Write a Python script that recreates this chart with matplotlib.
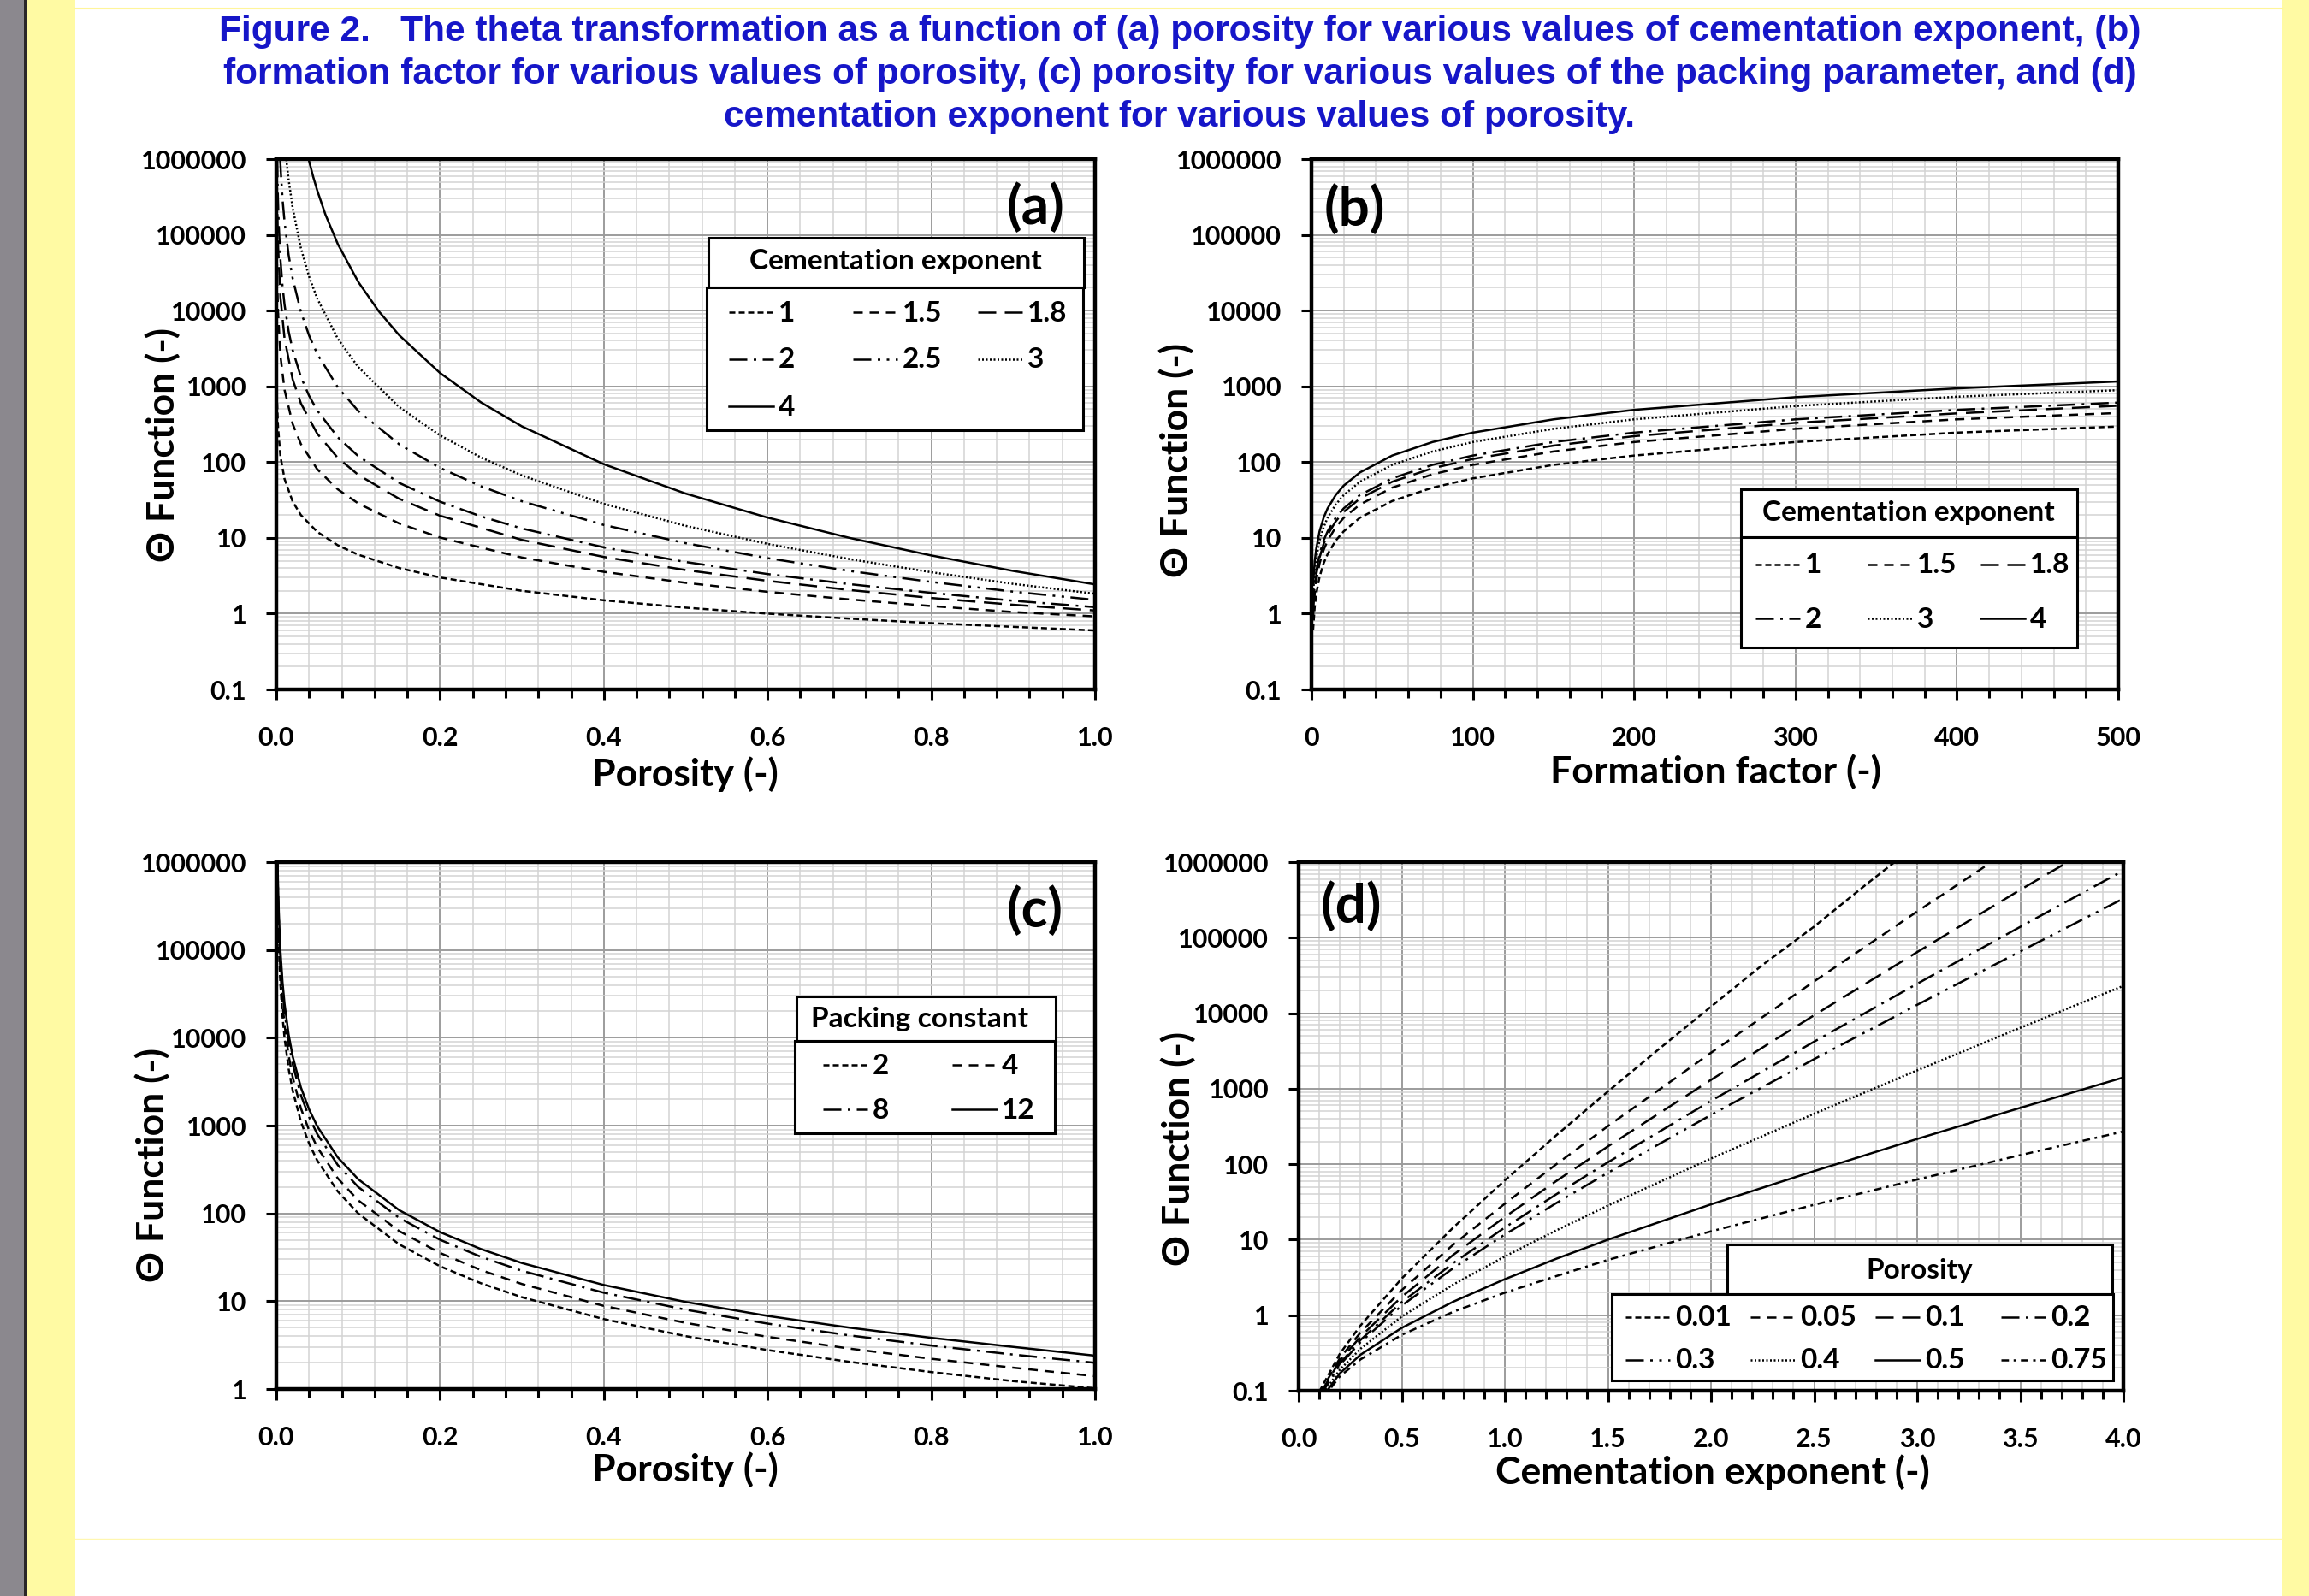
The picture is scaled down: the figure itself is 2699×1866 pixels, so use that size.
import numpy as np
import matplotlib
matplotlib.use("Agg")
import matplotlib.pyplot as plt
from matplotlib.lines import Line2D
from matplotlib.patches import Rectangle
from matplotlib.ticker import MultipleLocator, LogLocator, NullFormatter

# -------- data --------

# (a) theta vs porosity, one curve per cementation exponent
a_phi_m1 = [0.001, 0.002, 0.005, 0.01, 0.02, 0.03, 0.05, 0.075, 0.1, 0.15, 0.2, 0.3, 0.4, 0.5, 0.6, 0.7, 0.8, 0.9, 1.0]
a_theta_m1 = [600, 300, 120, 60, 30, 20, 12, 8.0, 6.0, 4.0, 3.0, 2.0, 1.5, 1.2, 1.0, 0.86, 0.75, 0.67, 0.6]
a_phi_m15 = [0.0001, 0.0002, 0.0005, 0.001, 0.002, 0.005, 0.01, 0.02, 0.03, 0.05, 0.075, 0.1, 0.15, 0.2, 0.3, 0.4, 0.5, 0.6, 0.7, 0.8, 0.9, 1.0]
a_theta_m15 = [900000, 318000, 80500, 28500, 10100, 2550, 900, 318, 173, 80.5, 43.8, 28.5, 15.5, 10.1, 5.5, 3.56, 2.55, 1.94, 1.54, 1.26, 1.05, 0.92]
a_phi_m18 = [0.0005, 0.001, 0.002, 0.005, 0.01, 0.02, 0.03, 0.05, 0.075, 0.1, 0.15, 0.2, 0.3, 0.4, 0.5, 0.6, 0.7, 0.8, 0.9, 1.0]
a_theta_m18 = [943000, 271000, 77900, 15000, 4300, 1230, 596, 237, 114, 68, 32.8, 19.6, 9.4, 5.6, 3.76, 2.71, 2.05, 1.61, 1.31, 1.1]
a_phi_m2 = [0.0011, 0.0015, 0.002, 0.003, 0.005, 0.0075, 0.01, 0.015, 0.02, 0.03, 0.04, 0.05, 0.075, 0.1, 0.15, 0.2, 0.25, 0.3, 0.4, 0.5, 0.6, 0.7, 0.8, 0.9, 1.0]
a_theta_m2 = [992000, 533000, 300000, 133000, 48000, 21300, 12000, 5330, 3000, 1330, 750, 480, 213, 120, 53.3, 30, 19.2, 13.3, 7.5, 4.8, 3.33, 2.45, 1.88, 1.48, 1.22]
a_phi_m25 = [0.0047, 0.006, 0.008, 0.01, 0.015, 0.02, 0.03, 0.04, 0.05, 0.075, 0.1, 0.15, 0.2, 0.25, 0.3, 0.4, 0.5, 0.6, 0.7, 0.8, 0.9, 1.0]
a_theta_m25 = [993000, 538000, 262000, 150000, 54400, 26500, 9620, 4690, 2680, 973, 474, 172, 83.9, 48, 30.4, 14.8, 8.5, 5.4, 3.66, 2.62, 1.95, 1.52]
a_phi_m3 = [0.0122, 0.015, 0.02, 0.03, 0.04, 0.05, 0.075, 0.1, 0.15, 0.2, 0.25, 0.3, 0.4, 0.5, 0.6, 0.7, 0.8, 0.9, 1.0]
a_theta_m3 = [991000, 533000, 225000, 66700, 28100, 14400, 4270, 1800, 533, 225, 115, 66.7, 28.1, 14.4, 8.33, 5.25, 3.52, 2.47, 1.83]
a_phi_m4 = [0.0394, 0.045, 0.05, 0.06, 0.075, 0.1, 0.125, 0.15, 0.2, 0.25, 0.3, 0.4, 0.5, 0.6, 0.7, 0.8, 0.9, 1.0]
a_theta_m4 = [1000000, 585000, 384000, 185000, 75900, 24000, 9830, 4740, 1500, 614, 296, 93.8, 38.4, 18.5, 10.0, 5.86, 3.66, 2.43]
a_names = ["1", "1.5", "1.8", "2", "2.5", "3", "4"]

# (b) theta vs formation factor
b_F = [1, 2, 3, 5, 7.5, 10, 15, 20, 30, 50, 75, 100, 150, 200, 300, 400, 500]
b_theta_m1 = [0.61, 1.22, 1.84, 3.06, 4.6, 6.1, 9.2, 12.2, 18.4, 30.6, 46, 61, 92, 122, 184, 245, 295]
b_theta_m15 = [0.92, 1.84, 2.75, 4.6, 6.9, 9.2, 13.8, 18.4, 27.5, 46, 69, 92, 138, 184, 275, 367, 445]
b_theta_m18 = [1.10, 2.2, 3.3, 5.5, 8.3, 11, 16.5, 22, 33, 55, 83, 110, 165, 220, 330, 440, 555]
b_theta_m2 = [1.22, 2.45, 3.67, 6.1, 9.2, 12.2, 18.4, 24.5, 36.7, 61, 92, 122, 184, 245, 367, 490, 610]
b_theta_m3 = [1.84, 3.67, 5.5, 9.2, 13.8, 18.4, 27.5, 36.7, 55, 92, 138, 184, 275, 367, 550, 730, 890]
b_theta_m4 = [2.45, 4.9, 7.3, 12.2, 18.4, 24.5, 36.7, 49, 73, 122, 184, 245, 367, 490, 720, 940, 1160]
b_names = ["1", "1.5", "1.8", "2", "3", "4"]

# (c) theta vs porosity, one curve per packing constant
c_phi_tail = [0.002, 0.003, 0.005, 0.0075, 0.01, 0.015, 0.02, 0.03, 0.04, 0.05, 0.075, 0.1, 0.15, 0.2, 0.25, 0.3, 0.4, 0.5, 0.6, 0.7, 0.8, 0.9, 1.0]
c_phi_a2 = [0.001] + c_phi_tail
c_phi_a4 = [0.0012] + c_phi_tail
c_phi_a8 = [0.00142] + c_phi_tail
c_phi_a12 = [0.00157] + c_phi_tail
c_theta_a2 = [1000000, 250000, 111000, 40000, 17800, 10000, 4440, 2500, 1110, 625, 400, 178, 100, 44.4, 25, 16, 11.1, 6.25, 4.0, 2.78, 2.04, 1.56, 1.23, 1.02]
c_theta_a4 = [982000, 354000, 157000, 56600, 25100, 14100, 6290, 3540, 1570, 884, 566, 251, 141, 62.9, 35.4, 22.6, 15.7, 8.84, 5.66, 3.93, 2.89, 2.21, 1.75, 1.40]
c_theta_a8 = [992000, 500000, 222000, 80000, 35600, 20000, 8890, 5000, 2220, 1250, 800, 356, 200, 88.9, 50, 32, 22.2, 12.5, 8.0, 5.56, 4.08, 3.13, 2.47, 1.99]
c_theta_a12 = [994000, 612000, 272000, 98000, 43500, 24500, 10900, 6120, 2720, 1530, 980, 435, 245, 109, 61.2, 39.2, 27.2, 15.3, 9.8, 6.8, 5.0, 3.83, 3.02, 2.40]
c_names = ["2", "4", "8", "12"]

# (d) theta vs cementation exponent, one curve per porosity
d_m = [0.1, 0.2, 0.3, 0.5, 0.75, 1.0, 1.25, 1.5, 2.0, 2.5, 3.0, 3.5, 4.0]
d_m_p001 = [0.1, 0.2, 0.3, 0.5, 0.75, 1.0, 1.25, 1.5, 1.75, 2.0, 2.25, 2.5, 2.75, 2.89]
d_theta_p001 = [0.097, 0.31, 0.73, 3.06, 14.5, 61, 242, 918, 3390, 12200, 43500, 140000, 500000, 1000000]
d_m_p005 = [0.1, 0.2, 0.3, 0.5, 0.75, 1.0, 1.25, 1.5, 2.0, 2.5, 3.0, 3.36]
d_theta_p005 = [0.090, 0.27, 0.59, 2.15, 8.6, 30, 100, 319, 2990, 26300, 222000, 1000000]
d_m_p01 = [0.1, 0.2, 0.3, 0.5, 0.75, 1.0, 1.25, 1.5, 2.0, 2.5, 3.0, 3.5, 3.73]
d_theta_p01 = [0.087, 0.25, 0.52, 1.75, 6.3, 20, 60, 172, 1310, 9380, 64400, 430000, 1000000]
d_theta_p02 = [0.084, 0.23, 0.47, 1.49, 4.9, 14.5, 40, 106, 689, 4190, 24500, 139000, 774000]
d_theta_p03 = [0.082, 0.22, 0.44, 1.34, 4.2, 11.7, 30.6, 77, 449, 2460, 12900, 65800, 329000]
d_theta_p04 = [0.077, 0.19, 0.36, 0.96, 2.55, 6.0, 13.3, 28.3, 119, 465, 1750, 6400, 23000]
d_theta_p05 = [0.072, 0.17, 0.30, 0.68, 1.51, 3.0, 5.6, 10.0, 29.4, 81, 216, 557, 1410]
d_theta_p075 = [0.069, 0.155, 0.26, 0.55, 1.11, 1.99, 3.3, 5.4, 12.9, 29, 62.7, 132, 271]
d_names = ["0.01", "0.05", "0.1", "0.2", "0.3", "0.4", "0.5", "0.75"]

# tick labels
unit_ticks = [0.0, 0.2, 0.4, 0.6, 0.8, 1.0]
unit_labels = ["0.0", "0.2", "0.4", "0.6", "0.8", "1.0"]
F_ticks = [0, 100, 200, 300, 400, 500]
F_labels = ["0", "100", "200", "300", "400", "500"]
m_ticks = [0.0, 0.5, 1.0, 1.5, 2.0, 2.5, 3.0, 3.5, 4.0]
m_labels = ["0.0", "0.5", "1.0", "1.5", "2.0", "2.5", "3.0", "3.5", "4.0"]
y_ticks = [0.1, 1, 10, 100, 1000, 10000, 100000, 1000000]
y_labels = ["0.1", "1", "10", "100", "1000", "10000", "100000", "1000000"]

title_lines = [
    "Figure 2.   The theta transformation as a function of (a) porosity for various values of cementation exponent, (b)",
    "formation factor for various values of porosity, (c) porosity for various values of the packing parameter, and (d)",
    "cementation exponent for various values of porosity.",
]

# -------- styling --------

W, H = 2699, 1866
plt.rcParams["font.family"] = ["Lato", "DejaVu Sans"]
plt.rcParams["font.weight"] = "bold"
plt.rcParams["axes.labelweight"] = "bold"

LW = 1.8
STYLES = {
    "sqdot": (0, (2.8, 1.6)),
    "dash": (0, (4.4, 3.2)),
    "longdash": (0, (8.4, 4.0)),
    "ldd": (0, (8.4, 3.0, 1.2, 3.0)),
    "lddd": (0, (8.4, 3.0, 1.2, 3.0, 1.2, 3.0)),
    "dot": (0, (0.8, 1.0)),
    "solid": "-",
    "dashdot": (0, (3.5, 2.2, 1.2, 2.2)),
}
TICK_FS = 22
XLAB_FS = 32
YLAB_FS = 32
LEG_FS = 24

fig = plt.figure(figsize=(W / 100, H / 100), dpi=100)


def fx(x):
    return x / W


def fy(y):
    return 1 - y / H


# page decorations
for x0, x1, col in [(0, 28, "#8b888e"), (28, 31, "#2a2628"), (31, 88, "#fffaa3"), (2668, 2699, "#fffaa3")]:
    fig.add_artist(Rectangle((fx(x0), 0), (x1 - x0) / W, 1, transform=fig.transFigure,
                             facecolor=col, edgecolor="none", zorder=0))
fig.add_artist(Line2D([fx(88), fx(2668)], [fy(10), fy(10)], transform=fig.transFigure, color="#fff59a", lw=1.5, zorder=0))
fig.add_artist(Line2D([fx(88), fx(2668)], [fy(1799), fy(1799)], transform=fig.transFigure, color="#fff7b0", lw=1.0, zorder=0))

for i, line in enumerate(title_lines):
    fig.text(fx(1379), fy(37 + 50 * i), line, ha="center", va="center", fontsize=30.5,
             family=["Liberation Sans", "DejaVu Sans"], weight="bold", color="#1616c8")


def make_axes(box):
    l, t, r, b = box
    return fig.add_axes([fx(l), fy(b), (r - l) / W, (b - t) / H])


def to_ax(box, x, y):
    l, t, r, b = box
    return (x - l) / (r - l), (b - y) / (b - t)


def style_axes(ax, box, xticks, xlabels, xminor, yticks, ylabels, xlabel, xlab_xy, ylab_xy, letter, letter_xy, letter_ha):
    ax.set_yscale("log")
    ax.set_xlim(xticks[0], xticks[-1])
    ax.set_ylim(yticks[0], yticks[-1])
    ax.set_xticks(xticks, xlabels, fontweight="bold")
    ax.set_yticks(yticks, ylabels, fontweight="bold")
    ax.xaxis.set_minor_locator(MultipleLocator(xminor))
    ax.yaxis.set_minor_locator(LogLocator(base=10, subs=np.arange(2, 10), numticks=20))
    ax.yaxis.set_minor_formatter(NullFormatter())
    ax.set_axisbelow(True)
    ax.grid(True, which="major", color="#9c9c9c", lw=1.4)
    ax.grid(True, which="minor", color="#d3d3d3", lw=1.1)
    ax.tick_params(axis="x", which="both", direction="out", length=9, width=2.2, labelsize=TICK_FS, pad=22)
    ax.tick_params(axis="x", which="minor", length=7)
    ax.tick_params(axis="y", which="major", direction="out", length=9, width=2.2, labelsize=TICK_FS, pad=16)
    ax.tick_params(axis="y", which="minor", length=0)
    for s in ax.spines.values():
        s.set_linewidth(3.2)
    ax.set_xlabel(xlabel, fontsize=XLAB_FS, fontweight="bold")
    ax.xaxis.set_label_coords(*to_ax(box, *xlab_xy))
    ax.xaxis.label.set_va("center")
    ax.set_ylabel("Θ Function (-)", fontsize=YLAB_FS, fontweight="bold")
    ax.yaxis.set_label_coords(*to_ax(box, *ylab_xy))
    ax.yaxis.label.set_va("center")
    lx, ly = to_ax(box, *letter_xy)
    ax.text(lx, ly, letter, transform=ax.transAxes, ha=letter_ha, va="center", fontsize=46,
            fontweight="bold", zorder=7)


def draw_legend(title, names, styles, title_box, entry_box, title_xy, cols, rows):
    for x0, y0, x1, y1 in (title_box, entry_box):
        fig.add_artist(Rectangle((fx(x0), fy(y1)), (x1 - x0) / W, (y1 - y0) / H, transform=fig.transFigure,
                                 facecolor="white", edgecolor="black", linewidth=2.2, zorder=5))
    fig.text(fx(title_xy[0]), fy(title_xy[1]), title, ha="center", va="center", fontsize=LEG_FS,
             fontweight="bold", zorder=6)
    for i, (name, st) in enumerate(zip(names, styles)):
        r, c = divmod(i, len(cols))
        x, y = cols[c], rows[r]
        fig.add_artist(Line2D([fx(x), fx(x + 52)], [fy(y), fy(y)], transform=fig.transFigure,
                              color="black", lw=LW, linestyle=STYLES[st], zorder=6))
        fig.text(fx(x + 58), fy(y + 1), name, ha="left", va="center", fontsize=LEG_FS,
                 fontweight="bold", zorder=6)


# -------- panel (a) --------
box_a = (323, 186, 1280, 806)
ax = make_axes(box_a)
a_styles = ["sqdot", "dash", "longdash", "ldd", "lddd", "dot", "solid"]
a_series = [(a_phi_m1, a_theta_m1), (a_phi_m15, a_theta_m15), (a_phi_m18, a_theta_m18), (a_phi_m2, a_theta_m2),
            (a_phi_m25, a_theta_m25), (a_phi_m3, a_theta_m3), (a_phi_m4, a_theta_m4)]
for (xs, ys), st in zip(a_series, a_styles):
    ax.plot(xs, ys, color="black", lw=LW, linestyle=STYLES[st], zorder=3)
style_axes(ax, box_a, unit_ticks, unit_labels, 0.04, y_ticks, y_labels, "Porosity (-)",
           (801, 905), (190, 520), "(a)", (1244, 242), "right")
draw_legend("Cementation exponent", a_names, a_styles, (828, 278, 1267, 336), (826, 336, 1266, 503),
            (1047, 306), [852, 997, 1143], [365, 420, 475])

# -------- panel (b) --------
box_b = (1533, 186, 2476, 806)
ax = make_axes(box_b)
b_styles = ["sqdot", "dash", "longdash", "ldd", "dot", "solid"]
for ys, st in zip([b_theta_m1, b_theta_m15, b_theta_m18, b_theta_m2, b_theta_m3, b_theta_m4], b_styles):
    ax.plot(b_F, ys, color="black", lw=LW, linestyle=STYLES[st], zorder=3)
style_axes(ax, box_b, F_ticks, F_labels, 20, y_ticks, y_labels, "Formation factor (-)",
           (2005, 902), (1375, 538), "(b)", (1548, 244), "left")
draw_legend("Cementation exponent", b_names, b_styles, (2035, 572, 2428, 628), (2035, 628, 2428, 757),
            (2231, 600), [2052, 2183, 2315], [660, 723])

# -------- panel (c) --------
box_c = (323, 1008, 1280, 1624)
ax = make_axes(box_c)
c_styles = ["sqdot", "dash", "ldd", "solid"]
for (xs, ys), st in zip([(c_phi_a2, c_theta_a2), (c_phi_a4, c_theta_a4), (c_phi_a8, c_theta_a8),
                         (c_phi_a12, c_theta_a12)], c_styles):
    ax.plot(xs, ys, color="black", lw=LW, linestyle=STYLES[st], zorder=3)
style_axes(ax, box_c, unit_ticks, unit_labels, 0.04, y_ticks[1:], y_labels[1:], "Porosity (-)",
           (801, 1718), (178, 1362), "(c)", (1243, 1064), "right")
draw_legend("Packing constant", c_names, c_styles, (931, 1165, 1234, 1217), (929, 1217, 1233, 1325),
            (1075, 1191), [962, 1113], [1245, 1297])

# -------- panel (d) --------
box_d = (1518, 1008, 2482, 1626)
ax = make_axes(box_d)
d_styles = ["sqdot", "dash", "longdash", "ldd", "lddd", "dot", "solid", "dashdot"]
d_series = [(d_m_p001, d_theta_p001), (d_m_p005, d_theta_p005), (d_m_p01, d_theta_p01), (d_m, d_theta_p02),
            (d_m, d_theta_p03), (d_m, d_theta_p04), (d_m, d_theta_p05), (d_m, d_theta_p075)]
for (xs, ys), st in zip(d_series, d_styles):
    ax.plot(xs, ys, color="black", lw=LW, linestyle=STYLES[st], zorder=3)
style_axes(ax, box_d, m_ticks, m_labels, 0.1, y_ticks, y_labels, "Cementation exponent (-)",
           (2002, 1721), (1377, 1343), "(d)", (1544, 1059), "left")
draw_legend("Porosity", d_names, d_styles, (2019, 1455, 2469, 1513), (1884, 1513, 2470, 1614),
            (2244, 1486), [1900, 2046, 2192, 2339], [1540, 1590])

fig.savefig("out.png", dpi=100)
